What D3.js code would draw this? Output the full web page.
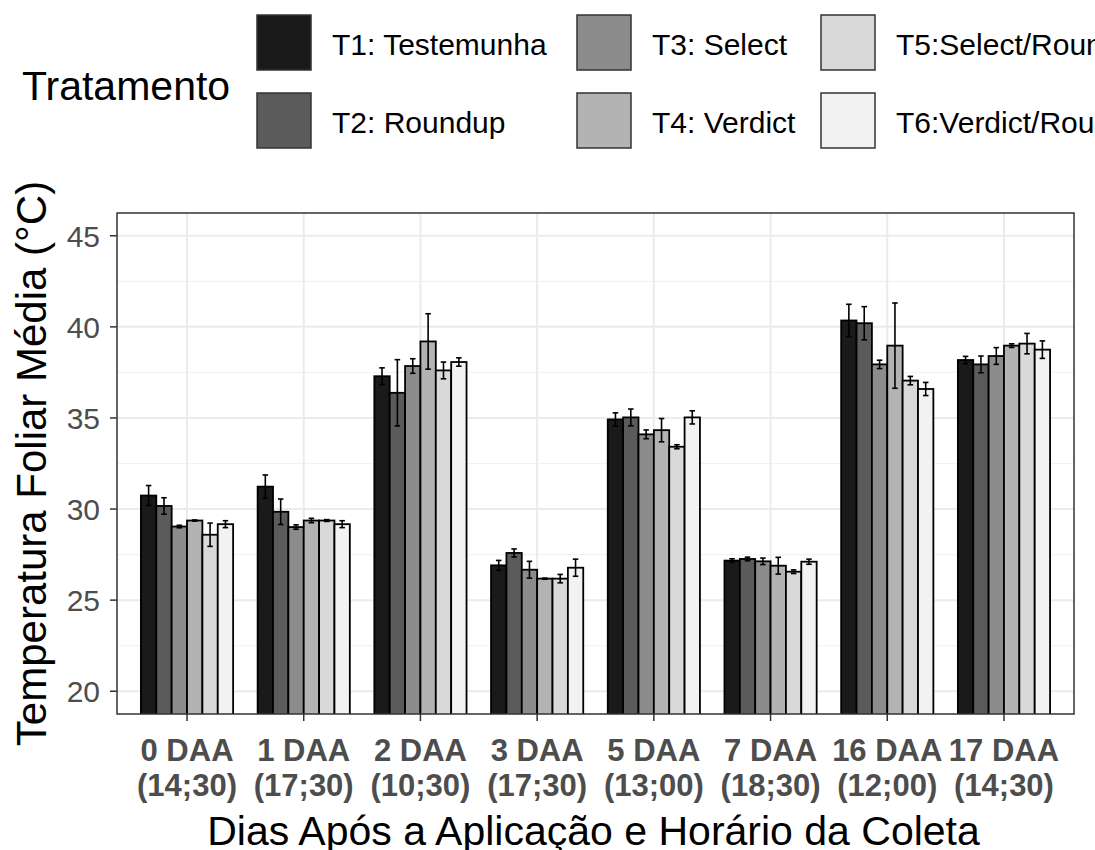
<!DOCTYPE html>
<html>
<head>
  <meta charset="utf-8">
  <script src="https://cdn.jsdelivr.net/npm/d3@7"></script>
  <style>
    html, body { margin:0; padding:0; background:#fff; overflow:hidden; }
    svg { display:block; font-family:"Liberation Sans", Arial, sans-serif; }
  </style>
</head>
<body>
<div id="chart"></div>
<script>
// data
var categories = ["0 DAA|(14;30)", "1 DAA|(17;30)", "2 DAA|(10;30)", "3 DAA|(17;30)",
                  "5 DAA|(13;00)", "7 DAA|(18;30)", "16 DAA|(12;00)", "17 DAA|(14;30)"];
var treatments = ["T1: Testemunha", "T2: Roundup", "T3: Select", "T4: Verdict",
                  "T5:Select/Roundup", "T6:Verdict/Roundup"];
var colors = ["#1a1a1a", "#5b5b5b", "#8c8c8c", "#b3b3b3", "#d9d9d9", "#f2f2f2"];
// mean per treatment (rows) and category (columns)
var means = [
  [30.74, 31.23, 37.29, 26.91, 34.92, 27.17, 40.35, 38.18],
  [30.17, 29.85, 36.38, 27.59, 35.03, 27.26, 40.20, 37.94],
  [29.04, 29.01, 37.85, 26.67, 34.10, 27.13, 37.94, 38.40],
  [29.37, 29.37, 39.20, 26.18, 34.33, 26.89, 38.97, 38.97],
  [28.59, 29.37, 37.61, 26.18, 33.42, 26.56, 37.05, 39.08],
  [29.17, 29.17, 38.07, 26.78, 35.03, 27.11, 36.59, 38.75]
];
var errs = [
  [0.55, 0.64, 0.46, 0.27, 0.36, 0.10, 0.89, 0.20],
  [0.45, 0.70, 1.82, 0.22, 0.46, 0.10, 0.91, 0.46],
  [0.07, 0.12, 0.40, 0.46, 0.24, 0.18, 0.23, 0.46],
  [0.03, 0.12, 1.52, 0.03, 0.64, 0.46, 2.34, 0.10],
  [0.64, 0.05, 0.46, 0.23, 0.11, 0.10, 0.23, 0.56],
  [0.19, 0.19, 0.23, 0.47, 0.36, 0.14, 0.36, 0.48]
];
var yTicks = [20, 25, 30, 35, 40, 45];
var yMinor = [22.5, 27.5, 32.5, 37.5, 42.5];

var W = 1095, H = 850;
var m = {left: 117, right: 1074, top: 213, bottom: 714};

var svg = d3.select("#chart").append("svg").attr("width", W).attr("height", H);

// discrete axis with ggplot's 0.6 expansion on each side
var x = d3.scalePoint().domain(categories)
  .range([m.left, m.right]).padding(0.6);
var y = d3.scaleLinear().domain([18.75, 46.25]).range([m.bottom, m.top]);
var step = x.step();

var g = svg.append("g");

// grid
g.selectAll(".minor").data(yMinor).enter().append("line")
  .attr("x1", m.left).attr("x2", m.right)
  .attr("y1", function(d){ return y(d); }).attr("y2", function(d){ return y(d); })
  .style("stroke", "#f2f2f2").style("stroke-width", 1.2);
g.selectAll(".major").data(yTicks).enter().append("line")
  .attr("x1", m.left).attr("x2", m.right)
  .attr("y1", function(d){ return y(d); }).attr("y2", function(d){ return y(d); })
  .style("stroke", "#ebebeb").style("stroke-width", 2);
g.selectAll(".vgrid").data(categories).enter().append("line")
  .attr("x1", function(d){ return x(d); }).attr("x2", function(d){ return x(d); })
  .attr("y1", m.top).attr("y2", m.bottom)
  .style("stroke", "#ebebeb").style("stroke-width", 2);

// bars
var groupW = step * 0.79;
var barW = groupW / treatments.length;
svg.append("clipPath").attr("id", "panel").append("rect")
  .attr("x", m.left).attr("y", m.top).attr("width", m.right - m.left).attr("height", m.bottom - m.top);

var bars = svg.append("g").attr("clip-path", "url(#panel)");
function rows(k) {
  return means[k].map(function(v, i){ return {v: v, e: errs[k][i], c: categories[i]}; });
}
treatments.forEach(function(t, k) {
  bars.selectAll(".b" + k).data(rows(k)).enter().append("rect")
    .attr("x", function(d){ return x(d.c) - groupW/2 + k*barW; })
    .attr("y", function(d){ return y(d.v); })
    .attr("width", barW)
    .attr("height", function(d){ return y(18) - y(d.v); })
    .style("fill", colors[k]).style("stroke", "#000").style("stroke-width", 1.8);
});
// error bars
treatments.forEach(function(t, k) {
  var eg = bars.selectAll(".e" + k).data(rows(k)).enter().append("g")
    .attr("transform", function(d){ return "translate(" + (x(d.c) - groupW/2 + (k+0.5)*barW) + ",0)"; });
  var cap = barW * 0.18;
  eg.append("line").attr("x1", 0).attr("x2", 0)
    .attr("y1", function(d){ return y(d.v + d.e); }).attr("y2", function(d){ return y(d.v - d.e); });
  eg.append("line").attr("x1", -cap).attr("x2", cap)
    .attr("y1", function(d){ return y(d.v + d.e); }).attr("y2", function(d){ return y(d.v + d.e); });
  eg.append("line").attr("x1", -cap).attr("x2", cap)
    .attr("y1", function(d){ return y(d.v - d.e); }).attr("y2", function(d){ return y(d.v - d.e); });
  eg.selectAll("line").style("stroke", "#000").style("stroke-width", 1.6);
});

// panel border
svg.append("rect").attr("x", m.left).attr("y", m.top)
  .attr("width", m.right - m.left).attr("height", m.bottom - m.top)
  .style("fill", "none").style("stroke", "#333").style("stroke-width", 1.5);

// y axis
var ya = svg.append("g");
yTicks.forEach(function(t) {
  ya.append("line").attr("x1", m.left - 7).attr("x2", m.left)
    .attr("y1", y(t)).attr("y2", y(t)).style("stroke", "#333").style("stroke-width", 1.5);
  ya.append("text").attr("x", 100).attr("y", y(t)).attr("dy", "0.36em")
    .attr("text-anchor", "end").style("font-size", "30px").style("fill", "#4d4d4d").text(t);
});

// x axis
var xa = svg.append("g");
categories.forEach(function(c) {
  xa.append("line").attr("x1", x(c)).attr("x2", x(c))
    .attr("y1", m.bottom).attr("y2", m.bottom + 7).style("stroke", "#333").style("stroke-width", 1.5);
  var parts = c.split("|");
  var tx = xa.append("text").attr("text-anchor", "middle")
    .style("font-size", "31px").style("font-weight", "bold").style("fill", "#4d4d4d");
  tx.append("tspan").attr("x", x(c)).attr("y", 761).text(parts[0]);
  tx.append("tspan").attr("x", x(c)).attr("y", 796).text(parts[1]);
});

// axis titles
svg.append("text").attr("x", (m.left + m.right)/2 - 2).attr("y", 845)
  .attr("text-anchor", "middle").style("font-size", "41px").style("fill", "#000")
  .text("Dias Após a Aplicação e Horário da Coleta");
svg.append("text").attr("transform", "translate(46," + ((m.top + m.bottom)/2) + ") rotate(-90)")
  .attr("text-anchor", "middle").style("font-size", "42px").style("fill", "#000")
  .text("Temperatura Foliar Média (°C)");

// legend
var lg = svg.append("g");
lg.append("text").attr("x", 22).attr("y", 100).style("font-size", "41px").style("fill", "#000").text("Tratamento");
var colX = [257, 577, 821];
var rowY = [15, 93];
treatments.forEach(function(t, k) {
  var col = Math.floor(k / 2), row = k % 2;
  lg.append("rect").attr("x", colX[col]).attr("y", rowY[row]).attr("width", 54).attr("height", 55)
    .style("fill", colors[k]).style("stroke", "#333").style("stroke-width", 1.5);
  lg.append("text").attr("x", colX[col] + 75).attr("y", rowY[row] + 29).attr("dy", "0.36em")
    .style("font-size", "30px").style("fill", "#000").text(t);
});
</script>
</body>
</html>
